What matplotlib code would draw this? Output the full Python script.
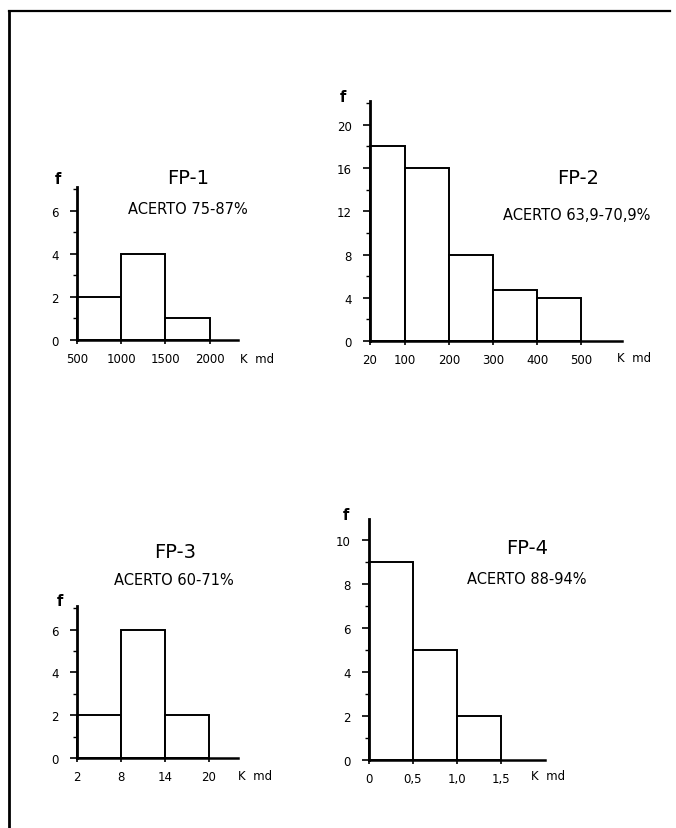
import numpy as np
import matplotlib
matplotlib.use("Agg")
import matplotlib.pyplot as plt
from matplotlib.lines import Line2D
from matplotlib.ticker import MultipleLocator

# --- dados ---
fp1_edges = [500, 1000, 1500, 2000]
fp1_freq = [2, 4, 1]
fp1_ticks = [500, 1000, 1500, 2000]
fp1_ticklabels = ["500", "1000", "1500", "2000"]

fp2_edges = [20, 100, 200, 300, 400, 500]
fp2_freq = [18, 16, 8, 4.7, 4]
fp2_ticks = [20, 100, 200, 300, 400, 500]
fp2_ticklabels = ["20", "100", "200", "300", "400", "500"]

fp3_edges = [2, 8, 14, 20]
fp3_freq = [2, 6, 2]
fp3_ticks = [2, 8, 14, 20]
fp3_ticklabels = ["2", "8", "14", "20"]

fp4_edges = [0, 0.5, 1.0, 1.5]
fp4_freq = [9, 5, 2]
fp4_ticks = [0, 0.5, 1.0, 1.5]
fp4_ticklabels = ["0", "0,5", "1,0", "1,5"]

titulos = ["FP-1", "FP-2", "FP-3", "FP-4"]
acertos = ["ACERTO 75-87%", "ACERTO 63,9-70,9%", "ACERTO 60-71%", "ACERTO 88-94%"]

W, H = 676, 829
plt.rcParams['font.family'] = ['DejaVu Sans']
fig = plt.figure(figsize=(W / 100, H / 100), dpi=100)


def eixo_px(left, right, top, bottom):
    """Cria um eixo a partir de coordenadas em pixels (origem no topo)."""
    return fig.add_axes([left / W, 1 - bottom / H, (right - left) / W, (bottom - top) / H])


def texto_px(x, y, s, **kw):
    fig.text(x / W, 1 - y / H, s, **kw)


def histograma(box, edges, freq, ticks, ticklabels, xlim, ylim, major, minor):
    ax = eixo_px(*box)
    edges = np.array(edges, dtype=float)
    ax.bar(edges[:-1], freq, width=np.diff(edges), align='edge',
           facecolor='white', edgecolor='black', linewidth=1.4, clip_on=False, zorder=2)
    ax.set_xlim(*xlim)
    ax.set_ylim(*ylim)
    for s in ['top', 'right']:
        ax.spines[s].set_visible(False)
    ax.spines['left'].set_linewidth(2.0)
    ax.spines['bottom'].set_linewidth(1.8)
    ax.set_xticks(ticks)
    ax.set_xticklabels(ticklabels)
    ax.yaxis.set_major_locator(MultipleLocator(major))
    ax.yaxis.set_minor_locator(MultipleLocator(minor))
    ax.tick_params(axis='y', which='major', direction='out', length=5, width=1.2,
                   labelsize=8.5, pad=8)
    ax.tick_params(axis='y', which='minor', direction='out', length=3, width=1.0)
    ax.tick_params(axis='x', direction='out', length=3, width=1.2, labelsize=8.5, pad=6)
    ax.patch.set_visible(False)
    return ax


histograma((77, 238, 188, 341), fp1_edges, fp1_freq, fp1_ticks, fp1_ticklabels,
           (500, 2320), (0, 7.1), 2, 1)
histograma((370, 622, 102, 342), fp2_edges, fp2_freq, fp2_ticks, fp2_ticklabels,
           (20, 593), (0, 22.2), 4, 2)
histograma((77, 238, 607, 759), fp3_edges, fp3_freq, fp3_ticks, fp3_ticklabels,
           (2, 24), (0, 7.1), 2, 1)
histograma((369, 545, 520, 761), fp4_edges, fp4_freq, fp4_ticks, fp4_ticklabels,
           (0, 2.0), (0, 10.95), 2, 1)

# títulos e acertos
pos_titulo = [(188, 178), (578, 178), (175, 552), (527, 548)]
pos_acerto = [(188, 210), (577, 216), (174, 581), (527, 580)]
for t, (x, y) in zip(titulos, pos_titulo):
    texto_px(x, y, t, ha='center', va='center', fontsize=14)
for a, (x, y) in zip(acertos, pos_acerto):
    texto_px(x, y, a, ha='center', va='center', fontsize=10.5)

# rótulos "f" e "K md"
for x, y in [(58, 180), (343, 97), (60, 602), (346, 515)]:
    texto_px(x, y, "f", ha='center', va='center', fontsize=10.5, fontweight='bold')
for x, y in [(240, 360), (617, 358), (238, 777), (531, 777)]:
    texto_px(x, y, "K  md", ha='left', va='center', fontsize=8.5)

# moldura da página
fig.add_artist(Line2D([9 / W, 9 / W], [0, 1 - 12 / H], color='black', linewidth=2.0))
fig.add_artist(Line2D([9 / W, 670 / W], [1 - 12 / H, 1 - 12 / H], color='black', linewidth=1.6))

fig.savefig("out.png", dpi=100)
